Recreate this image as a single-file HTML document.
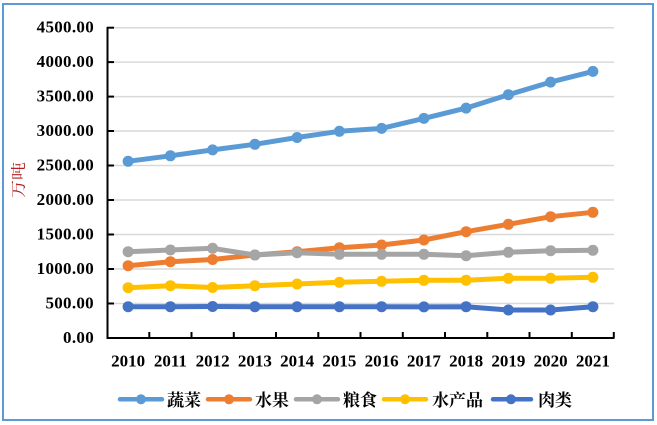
<!DOCTYPE html>
<html>
<head>
<meta charset="utf-8">
<style>
  html, body { margin: 0; padding: 0; background: #fff; }
  svg { display: block; }
</style>
</head>
<body>
<svg width="657" height="425" viewBox="0 0 657 425" xmlns="http://www.w3.org/2000/svg">
  <rect x="0" y="0" width="657" height="425" fill="#fff"/>
  <!-- outer border -->
  <rect x="3" y="4" width="650" height="416" fill="none" stroke="#5B9BD5" stroke-width="2"/>

  <!-- gridlines -->
  <g stroke="#D9D9D9" stroke-width="1.5">
    <line x1="107" y1="27.7" x2="614" y2="27.7"/>
    <line x1="107" y1="62.1" x2="614" y2="62.1"/>
    <line x1="107" y1="96.6" x2="614" y2="96.6"/>
    <line x1="107" y1="131" x2="614" y2="131"/>
    <line x1="107" y1="165.5" x2="614" y2="165.5"/>
    <line x1="107" y1="200" x2="614" y2="200"/>
    <line x1="107" y1="234.5" x2="614" y2="234.5"/>
    <line x1="107" y1="269" x2="614" y2="269"/>
    <line x1="107" y1="303.5" x2="614" y2="303.5"/>
  </g>

  <!-- axes -->
  <g stroke="#000" stroke-width="2" fill="none">
    <line x1="107.5" y1="27" x2="107.5" y2="339"/>
    <line x1="107" y1="338" x2="614.5" y2="338"/>
    <!-- y ticks (inside) -->
    <line x1="107" y1="27.7" x2="114" y2="27.7"/>
    <line x1="107" y1="62.1" x2="114" y2="62.1"/>
    <line x1="107" y1="96.6" x2="114" y2="96.6"/>
    <line x1="107" y1="131" x2="114" y2="131"/>
    <line x1="107" y1="165.5" x2="114" y2="165.5"/>
    <line x1="107" y1="200" x2="114" y2="200"/>
    <line x1="107" y1="234.5" x2="114" y2="234.5"/>
    <line x1="107" y1="269" x2="114" y2="269"/>
    <line x1="107" y1="303.5" x2="114" y2="303.5"/>
    <!-- x ticks (inside) -->
    <line x1="149.3" y1="332" x2="149.3" y2="338"/>
    <line x1="191.5" y1="332" x2="191.5" y2="338"/>
    <line x1="233.8" y1="332" x2="233.8" y2="338"/>
    <line x1="276" y1="332" x2="276" y2="338"/>
    <line x1="318.3" y1="332" x2="318.3" y2="338"/>
    <line x1="360.5" y1="332" x2="360.5" y2="338"/>
    <line x1="402.8" y1="332" x2="402.8" y2="338"/>
    <line x1="445" y1="332" x2="445" y2="338"/>
    <line x1="487.3" y1="332" x2="487.3" y2="338"/>
    <line x1="529.5" y1="332" x2="529.5" y2="338"/>
    <line x1="571.8" y1="332" x2="571.8" y2="338"/>
    <line x1="613.8" y1="332" x2="613.8" y2="338"/>
  </g>

  <!-- y labels -->
  <g font-family="'Liberation Serif', serif" font-weight="bold" font-size="17" fill="#000" text-anchor="end" letter-spacing="0.3">
    <text x="94" y="32.7">4500.00</text>
    <text x="94" y="67.1">4000.00</text>
    <text x="94" y="101.6">3500.00</text>
    <text x="94" y="136">3000.00</text>
    <text x="94" y="170.5">2500.00</text>
    <text x="94" y="205">2000.00</text>
    <text x="94" y="239.5">1500.00</text>
    <text x="94" y="274">1000.00</text>
    <text x="94" y="308.5">500.00</text>
    <text x="94" y="343">0.00</text>
  </g>

  <!-- x labels -->
  <g font-family="'Liberation Serif', serif" font-weight="bold" font-size="17" fill="#000" text-anchor="middle">
    <text x="128.1" y="366.5">2010</text>
    <text x="170.4" y="366.5">2011</text>
    <text x="212.6" y="366.5">2012</text>
    <text x="254.9" y="366.5">2013</text>
    <text x="297.1" y="366.5">2014</text>
    <text x="339.4" y="366.5">2015</text>
    <text x="381.6" y="366.5">2016</text>
    <text x="423.9" y="366.5">2017</text>
    <text x="466.1" y="366.5">2018</text>
    <text x="508.4" y="366.5">2019</text>
    <text x="550.6" y="366.5">2020</text>
    <text x="592.9" y="366.5">2021</text>
  </g>

  <!-- y axis title -->
  <text transform="translate(23.5,180) rotate(-90) scale(1.2,1)" text-anchor="middle" font-family="'Liberation Serif', 'Noto Serif CJK SC', serif" font-size="15" fill="#B22222">万吨</text>

  <!-- series: 蔬菜 -->
  <g stroke="#5B9BD5" fill="#5B9BD5">
    <polyline fill="none" stroke-width="5" stroke-linejoin="round" points="128.1,161.3 170.4,155.8 212.6,149.9 254.9,144.3 297.1,137.5 339.4,131.3 381.6,128.4 423.9,118.4 466.1,108.1 508.4,94.7 550.6,82.1 592.9,71.4"/>
    <g stroke="none">
      <circle cx="128.1" cy="161.3" r="5.5"/><circle cx="170.4" cy="155.8" r="5.5"/><circle cx="212.6" cy="149.9" r="5.5"/><circle cx="254.9" cy="144.3" r="5.5"/><circle cx="297.1" cy="137.5" r="5.5"/><circle cx="339.4" cy="131.3" r="5.5"/><circle cx="381.6" cy="128.4" r="5.5"/><circle cx="423.9" cy="118.4" r="5.5"/><circle cx="466.1" cy="108.1" r="5.5"/><circle cx="508.4" cy="94.7" r="5.5"/><circle cx="550.6" cy="82.1" r="5.5"/><circle cx="592.9" cy="71.4" r="5.5"/>
    </g>
  </g>

  <!-- series: 水果 -->
  <g stroke="#ED7D31" fill="#ED7D31">
    <polyline fill="none" stroke-width="5" stroke-linejoin="round" points="128.1,265.7 170.4,261.7 212.6,259.5 254.9,255 297.1,251.7 339.4,247.7 381.6,245 423.9,240 466.1,231.7 508.4,224.3 550.6,216.7 592.9,212.3"/>
    <g stroke="none">
      <circle cx="128.1" cy="265.7" r="5.5"/><circle cx="170.4" cy="261.7" r="5.5"/><circle cx="212.6" cy="259.5" r="5.5"/><circle cx="254.9" cy="255" r="5.5"/><circle cx="297.1" cy="251.7" r="5.5"/><circle cx="339.4" cy="247.7" r="5.5"/><circle cx="381.6" cy="245" r="5.5"/><circle cx="423.9" cy="240" r="5.5"/><circle cx="466.1" cy="231.7" r="5.5"/><circle cx="508.4" cy="224.3" r="5.5"/><circle cx="550.6" cy="216.7" r="5.5"/><circle cx="592.9" cy="212.3" r="5.5"/>
    </g>
  </g>

  <!-- series: 粮食 -->
  <g stroke="#A5A5A5" fill="#A5A5A5">
    <polyline fill="none" stroke-width="5" stroke-linejoin="round" points="128.1,251.7 170.4,250 212.6,248.3 254.9,255 297.1,252.7 339.4,254.3 381.6,254.3 423.9,254.3 466.1,255.7 508.4,252.3 550.6,250.7 592.9,250.3"/>
    <g stroke="none">
      <circle cx="128.1" cy="251.7" r="5.5"/><circle cx="170.4" cy="250" r="5.5"/><circle cx="212.6" cy="248.3" r="5.5"/><circle cx="254.9" cy="255" r="5.5"/><circle cx="297.1" cy="252.7" r="5.5"/><circle cx="339.4" cy="254.3" r="5.5"/><circle cx="381.6" cy="254.3" r="5.5"/><circle cx="423.9" cy="254.3" r="5.5"/><circle cx="466.1" cy="255.7" r="5.5"/><circle cx="508.4" cy="252.3" r="5.5"/><circle cx="550.6" cy="250.7" r="5.5"/><circle cx="592.9" cy="250.3" r="5.5"/>
    </g>
  </g>

  <!-- series: 水产品 -->
  <g stroke="#FFC000" fill="#FFC000">
    <polyline fill="none" stroke-width="5" stroke-linejoin="round" points="128.1,287.7 170.4,285.7 212.6,287.5 254.9,285.7 297.1,284 339.4,282.3 381.6,281.3 423.9,280.3 466.1,280.2 508.4,278.3 550.6,278.3 592.9,277.3"/>
    <g stroke="none">
      <circle cx="128.1" cy="287.7" r="5.5"/><circle cx="170.4" cy="285.7" r="5.5"/><circle cx="212.6" cy="287.5" r="5.5"/><circle cx="254.9" cy="285.7" r="5.5"/><circle cx="297.1" cy="284" r="5.5"/><circle cx="339.4" cy="282.3" r="5.5"/><circle cx="381.6" cy="281.3" r="5.5"/><circle cx="423.9" cy="280.3" r="5.5"/><circle cx="466.1" cy="280.2" r="5.5"/><circle cx="508.4" cy="278.3" r="5.5"/><circle cx="550.6" cy="278.3" r="5.5"/><circle cx="592.9" cy="277.3" r="5.5"/>
    </g>
  </g>

  <!-- series: 肉类 -->
  <g stroke="#4472C4" fill="#4472C4">
    <polyline fill="none" stroke-width="5" stroke-linejoin="round" points="128.1,306.7 170.4,306.7 212.6,306.5 254.9,306.7 297.1,306.7 339.4,306.7 381.6,306.7 423.9,306.9 466.1,306.7 508.4,310 550.6,310 592.9,306.7"/>
    <g stroke="none">
      <circle cx="128.1" cy="306.7" r="5.5"/><circle cx="170.4" cy="306.7" r="5.5"/><circle cx="212.6" cy="306.5" r="5.5"/><circle cx="254.9" cy="306.7" r="5.5"/><circle cx="297.1" cy="306.7" r="5.5"/><circle cx="339.4" cy="306.7" r="5.5"/><circle cx="381.6" cy="306.7" r="5.5"/><circle cx="423.9" cy="306.9" r="5.5"/><circle cx="466.1" cy="306.7" r="5.5"/><circle cx="508.4" cy="310" r="5.5"/><circle cx="550.6" cy="310" r="5.5"/><circle cx="592.9" cy="306.7" r="5.5"/>
    </g>
  </g>

  <!-- legend -->
  <g stroke-width="4.5" stroke-linecap="round">
    <line x1="120" y1="399.3" x2="162" y2="399.3" stroke="#5B9BD5"/>
    <circle cx="141" cy="399.3" r="5" fill="#5B9BD5" stroke="none"/>
    <line x1="208" y1="399.3" x2="250" y2="399.3" stroke="#ED7D31"/>
    <circle cx="229" cy="399.3" r="5" fill="#ED7D31" stroke="none"/>
    <line x1="296" y1="399.3" x2="338" y2="399.3" stroke="#A5A5A5"/>
    <circle cx="317" cy="399.3" r="5" fill="#A5A5A5" stroke="none"/>
    <line x1="384" y1="399.3" x2="426" y2="399.3" stroke="#FFC000"/>
    <circle cx="405" cy="399.3" r="5" fill="#FFC000" stroke="none"/>
    <line x1="493" y1="399.3" x2="531" y2="399.3" stroke="#4472C4"/>
    <circle cx="511" cy="399.3" r="5" fill="#4472C4" stroke="none"/>
  </g>
  <g font-family="'Liberation Serif', 'Noto Serif CJK SC', serif" font-weight="bold" font-size="17" fill="#000">
    <text x="167" y="406">蔬菜</text>
    <text x="255" y="406">水果</text>
    <text x="343" y="406">粮食</text>
    <text x="432" y="406">水产品</text>
    <text x="538" y="406">肉类</text>
  </g>
</svg>
</body>
</html>
